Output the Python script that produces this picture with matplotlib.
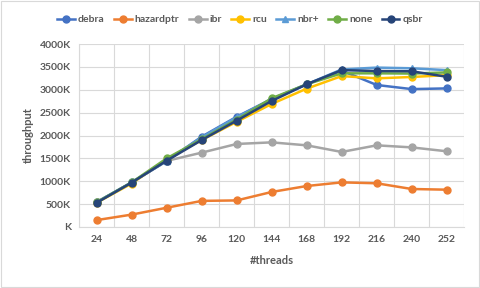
import matplotlib.pyplot as plt
import numpy as np

threads = [24, 48, 72, 96, 120, 144, 168, 192, 216, 240, 252]

# throughput values (in K ops)
debra = [540, 975, 1440, 1975, 2410, 2800, 3120, 3420, 3105, 3015, 3030]
hazardptr = [150, 270, 420, 570, 580, 765, 895, 975, 955, 830, 815]
ibr = [540, 970, 1445, 1625, 1815, 1850, 1785, 1640, 1785, 1740, 1655]
rcu = [530, 950, 1480, 1900, 2300, 2690, 3025, 3300, 3250, 3280, 3320]
nbr = [545, 975, 1450, 1960, 2400, 2790, 3120, 3445, 3485, 3470, 3430]
none = [540, 975, 1500, 1920, 2350, 2815, 3120, 3360, 3360, 3355, 3380]
qsbr = [530, 970, 1450, 1900, 2325, 2755, 3120, 3430, 3410, 3405, 3285]

series = [
    ("debra", debra, "#4472C4", "o"),
    ("hazardptr", hazardptr, "#ED7D31", "o"),
    ("ibr", ibr, "#A5A5A5", "o"),
    ("rcu", rcu, "#FFC000", "o"),
    ("nbr+", nbr, "#5B9BD5", "^"),
    ("none", none, "#70AD47", "o"),
    ("qsbr", qsbr, "#264478", "o"),
]

plt.rcParams['font.family'] = ['Lato', 'DejaVu Sans']
text_color = '#595959'

fig = plt.figure(figsize=(4.8, 2.88), dpi=100)
ax = fig.add_axes([0.165, 0.212, 0.802, 0.635])

x = np.arange(len(threads))
for name, vals, color, marker in series:
    ax.plot(x, vals, color=color, linewidth=1.8, marker=marker, markersize=5,
            label=name)

ax.set_xlim(-0.5, len(threads) - 0.5)
ax.set_ylim(0, 4000)
ax.set_xticks(x)
ax.set_xticklabels([str(t) for t in threads])
ax.set_xticks(np.arange(-0.5, len(threads), 1), minor=True)
yt = np.arange(0, 4001, 500)
ax.set_yticks(yt)
ax.set_yticklabels([f"{v}K" if v else "K" for v in yt])

ax.grid(True, which='minor', axis='x', color='#D9D9D9', linewidth=0.8)
ax.grid(True, which='major', axis='y', color='#D9D9D9', linewidth=0.8)
ax.set_axisbelow(True)
ax.tick_params(which='both', length=0)
ax.tick_params(axis='both', labelsize=7.5, labelcolor=text_color, pad=6)
for lbl in ax.get_xticklabels() + ax.get_yticklabels():
    lbl.set_fontweight('bold')

for side in ['top', 'right']:
    ax.spines[side].set_visible(False)
ax.spines['left'].set_color('#D9D9D9')
ax.spines['bottom'].set_color('#D9D9D9')

ax.set_xlabel("#threads", fontsize=8, color=text_color, fontweight='bold', labelpad=8)
ax.set_ylabel("throughput", fontsize=8, color=text_color, fontweight='bold', labelpad=4)

leg = fig.legend(loc='upper center', bbox_to_anchor=(0.5, 0.98), ncol=7, frameon=False,
                 fontsize=7.5, handlelength=1.7, columnspacing=0.9, handletextpad=0.3)
for t in leg.get_texts():
    t.set_color(text_color)
    t.set_fontweight('bold')

fig.patches.append(plt.Rectangle((0.002, 0.003), 0.996, 0.994, transform=fig.transFigure,
                                 fill=False, edgecolor='#D9D9D9', linewidth=0.8))

fig.savefig("out.png", dpi=100)
